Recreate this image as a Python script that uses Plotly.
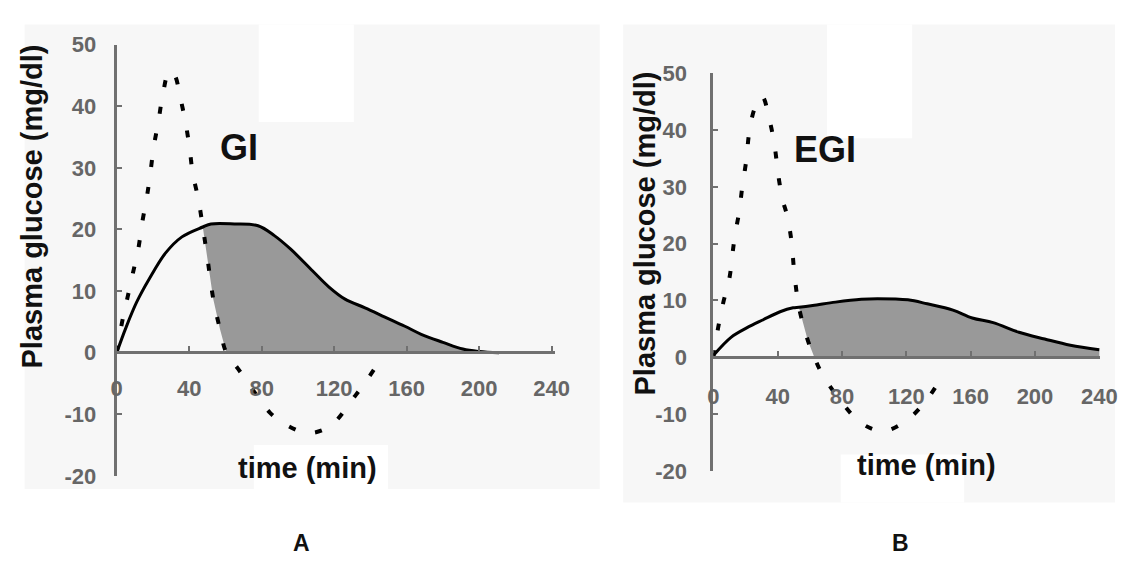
import plotly.graph_objects as go

# ---------------- data ----------------
# Panel A (GI)
gi_t = [0, 5, 11, 18, 27, 36, 47.5, 52, 65, 78, 87, 96, 108, 117, 126, 137, 148, 159, 168, 180, 191, 200, 211]
gi_y = [0, 4, 8.2, 12, 16.2, 18.8, 20.4, 20.9, 20.9, 20.6, 19, 16.8, 13.3, 10.7, 8.7, 7.3, 5.8, 4.3, 3.0, 1.7, 0.6, 0.2, 0]

rapid_a_t = [0, 3, 6, 9, 12, 14, 16.5, 18.5, 20.5, 23, 25.5, 29, 32, 35, 38, 40.2, 42, 45, 47.5, 50, 53.3, 57, 60.5,
             67, 75, 84.5, 93, 105, 114, 120.5, 130, 139, 147]
rapid_a_y = [0, 5, 9, 13, 17, 21, 25, 29, 33.5, 37.5, 42, 45.7, 45, 41.5, 37.3, 33.2, 29, 25, 20.4, 15.5, 8.7, 3.8, 0,
             -2.6, -6, -9.7, -11.6, -13, -12.5, -11.2, -7.6, -4, -0.5]

# Panel B (EGI)
egi_t = [0, 11, 21, 31, 41.5, 49.6, 53.2, 61.8, 76, 92, 102, 121, 133, 149, 161, 174, 190, 206, 222, 240]
egi_y = [0.3, 3.5, 5.2, 6.6, 8.0, 8.7, 8.8, 9.1, 9.7, 10.2, 10.3, 10.1, 9.4, 8.3, 6.9, 6.1, 4.4, 3.2, 2.1, 1.3]

rapid_b_t = [0, 3, 6, 10, 12, 13.4, 16, 18.1, 20.5, 22.2, 25.6, 30.3, 35.4, 38.4, 40.4, 43.1, 45.9, 48.6, 50, 51.6, 53.2,
             58.7, 62.8, 67.6, 80, 92, 105.4, 119.4, 131.6, 142]
rapid_b_y = [0, 5.2, 9.4, 13.9, 18.4, 21.4, 25.5, 30.2, 34.7, 39.3, 43.7, 45.9, 41.2, 36.6, 32, 27.7, 24.9, 20.4, 15.9, 11.8, 8.8,
             3.0, 0, -2.9, -8, -11.6, -13, -11.3, -7.9, -3.5]

x_ticks = [0, 40, 80, 120, 160, 200, 240]
y_ticks = [-20, -10, 0, 10, 20, 30, 40, 50]
y_tick_text = ["-20", "-10", "0", "10", "20", "30", "40", "50"]

# crossing points (where shading starts) and end of positive dashed lobe
cross_a, zero_a = 47.5, 60.5
cross_b, zero_b = 53.2, 62.8

W, H = 1132, 567
FONT = "Liberation Sans, Arial, Helvetica, sans-serif"
AXC = "#707070"
FILL = "#999999"
BGC = "#f7f7f7"


def fill_traces(st, sy, rt, ry, t0, t1, xa, ya):
    up_x = [t for t in st if t >= t0]
    up_y = [y for t, y in zip(st, sy) if t >= t0]
    lo_x = [t for t in rt if t0 <= t <= t1] + [up_x[-1]]
    lo_y = [y for t, y in zip(rt, ry) if t0 <= t <= t1] + [0]
    lower = go.Scatter(x=lo_x, y=lo_y, mode="lines", line=dict(width=0, color=FILL),
                       xaxis=xa, yaxis=ya, hoverinfo="skip", showlegend=False)
    upper = go.Scatter(x=up_x, y=up_y, mode="lines", line=dict(width=0, color=FILL, shape="spline"),
                       fill="tonexty", fillcolor=FILL, xaxis=xa, yaxis=ya,
                       hoverinfo="skip", showlegend=False)
    return [lower, upper]


fig = go.Figure()
for tr in fill_traces(gi_t, gi_y, rapid_a_t, rapid_a_y, cross_a, zero_a, "x", "y"):
    fig.add_trace(tr)
for tr in fill_traces(egi_t, egi_y, rapid_b_t, rapid_b_y, cross_b, zero_b, "x2", "y2"):
    fig.add_trace(tr)

dash = "7px,20px"
fig.add_trace(go.Scatter(x=rapid_a_t, y=rapid_a_y, mode="lines", xaxis="x", yaxis="y",
                         line=dict(color="black", width=4, dash=dash, shape="spline"), showlegend=False))
fig.add_trace(go.Scatter(x=gi_t, y=gi_y, mode="lines", xaxis="x", yaxis="y",
                         line=dict(color="black", width=3, shape="spline"), showlegend=False))
fig.add_trace(go.Scatter(x=rapid_b_t, y=rapid_b_y, mode="lines", xaxis="x2", yaxis="y2",
                         line=dict(color="black", width=4, dash=dash, shape="spline"), showlegend=False))
fig.add_trace(go.Scatter(x=egi_t, y=egi_y, mode="lines", xaxis="x2", yaxis="y2",
                         line=dict(color="black", width=3, shape="spline"), showlegend=False))


def px_x(p):
    return p / W


def px_y(p):
    return 1 - p / H


TICKFONT = dict(family=FONT, size=22, color="#666666", weight="bold")
common_x = dict(showline=True, linecolor=AXC, linewidth=3, ticks="inside", ticklen=5, tickwidth=2,
                tickcolor=AXC, showgrid=False, zeroline=False, tickvals=x_ticks,
                tickfont=TICKFONT, anchor="free")
common_y = dict(showline=True, linecolor=AXC, linewidth=3, ticks="inside", ticklen=5, tickwidth=2,
                tickcolor=AXC, showgrid=False, zeroline=False, tickvals=y_ticks, ticktext=y_tick_text,
                range=[-20, 50], tickfont=TICKFONT)

# Panel A geometry
axA_left, axA_right = 113, 560
A_top, A_bot, A_zero = 34, 485.5, 356
# Panel B geometry
axB_left, axB_right = 722, 1117
B_top, B_bot, B_zero = 64, 480, 361

fig.update_layout(
    width=W, height=H, margin=dict(l=0, r=0, t=0, b=0),
    paper_bgcolor="white", plot_bgcolor="rgba(0,0,0,0)",
    xaxis=dict(common_x, domain=[px_x(axA_left), px_x(axA_right)],
               range=[0, (axA_right - axA_left) / ((557 - 113) / 240)],
               position=px_y(A_zero), ticklabelstandoff=15),
    yaxis=dict(common_y, domain=[px_y(A_bot), px_y(A_top)], anchor="x", ticklabelstandoff=13),
    xaxis2=dict(common_x, domain=[px_x(axB_left), px_x(axB_right)],
                range=[0, (axB_right - axB_left) / ((1116 - 722) / 240)],
                position=px_y(B_zero), ticklabelstandoff=19),
    yaxis2=dict(common_y, domain=[px_y(B_bot), px_y(B_top)], anchor="x2", ticklabelstandoff=19),
)

# background (scanned-figure look)
bg = [
    (19, 13, 606, 499, BGC),
    (258, 13, 355, 115, "white"),
    (253, 453, 390, 499, "white"),
    (630, 13, 1132, 513, BGC),
    (838, 13, 925, 132, "white"),
    (852, 463, 978, 513, "white"),
]
for x0, y0, x1, y1, c in bg:
    fig.add_shape(type="rect", xref="paper", yref="paper", x0=px_x(x0), x1=px_x(x1),
                  y0=px_y(y1), y1=px_y(y0), fillcolor=c, line=dict(width=0), layer="below")

ann = [
    ("Plasma glucose (mg/dl)", 27, 203, 29, -90),
    ("Plasma glucose (mg/dl)", 652, 232, 29, -90),
    ("time (min)", 308, 477, 29, 0),
    ("time (min)", 940, 474, 29, 0),
    ("GI", 238, 142, 36, 0),
    ("EGI", 836, 144, 36, 0),
    ("A", 302, 556, 23, 0),
    ("B", 913, 556, 23, 0),
]
for txt, x, y, s, ang in ann:
    fig.add_annotation(text="<b>%s</b>" % txt, xref="paper", yref="paper", x=px_x(x), y=px_y(y),
                       xanchor="center", yanchor="middle", showarrow=False, textangle=ang,
                       font=dict(family=FONT, size=s, color="#111111"))

fig.write_html("out.html")
